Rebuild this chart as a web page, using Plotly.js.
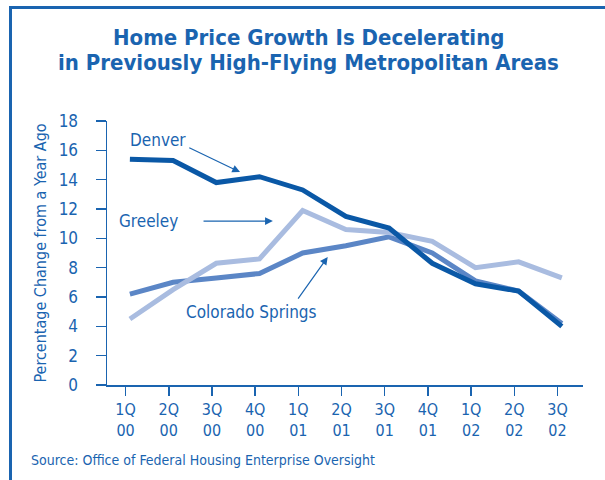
<!DOCTYPE html>
<html>
<head>
<meta charset="utf-8">
<script src="https://cdn.plot.ly/plotly-3.0.1.min.js"></script>
<style>
  html, body { margin: 0; padding: 0; background: #fff; }
  #wrap { position: relative; width: 605px; height: 480px; overflow: hidden; }
  #frame { position: absolute; left: 9px; top: 6px; width: 600px; height: 480px;
           border-left: 3px solid #1a64b0; border-top: 3px solid #1a64b0; }
  #chart { position: absolute; left: 0; top: 0; width: 605px; height: 480px; }
</style>
</head>
<body>
<div id="wrap">
  <div id="frame"></div>
  <div id="chart"></div>
</div>
<script>
const categories = ['1Q<br>00','2Q<br>00','3Q<br>00','4Q<br>00','1Q<br>01','2Q<br>01','3Q<br>01','4Q<br>01','1Q<br>02','2Q<br>02','3Q<br>02'];
const denver = [15.4, 15.3, 13.8, 14.2, 13.3, 11.5, 10.7, 8.3, 6.9, 6.4, 4.0];
const greeley = [4.5, 6.5, 8.3, 8.6, 11.9, 10.6, 10.4, 9.8, 8.0, 8.4, 7.3];
const coloradoSprings = [6.2, 7.0, 7.3, 7.6, 9.0, 9.5, 10.1, 9.0, 7.1, 6.4, 4.2];
const yTicks = [0, 2, 4, 6, 8, 10, 12, 14, 16, 18];
const titleLines = ['Home Price Growth Is Decelerating', 'in Previously High-Flying Metropolitan Areas'];

const idx = categories.map((c, i) => i);
const blue = '#1a64b0';
const font = 'DejaVu Sans Condensed, Liberation Sans Narrow, Roboto, sans-serif';

const traces = [
  { x: idx, y: coloradoSprings, mode: 'lines', line: { color: '#5b86c6', width: 5 }, name: 'Colorado Springs' },
  { x: idx, y: greeley, mode: 'lines', line: { color: '#a9bce0', width: 5 }, name: 'Greeley' },
  { x: idx, y: denver, mode: 'lines', line: { color: '#0a58a6', width: 5 }, name: 'Denver' }
];

const arrow = (x, y, ax, ay) => ({
  x: x, y: y, ax: ax, ay: ay, xref: 'x', yref: 'y', axref: 'x', ayref: 'y',
  text: '', showarrow: true, arrowhead: 2, arrowsize: 1.3, arrowwidth: 1.2, arrowcolor: blue
});
const label = (t, x, y) => ({
  x: x, y: y, xref: 'x', yref: 'y', text: t, showarrow: false,
  font: { family: font, size: 17, color: blue }
});
const titleLine = (t, y) => ({
  xref: 'paper', yref: 'paper', x: 0.424, y: y, xanchor: 'center', yanchor: 'middle',
  text: '<b>' + t + '</b>', showarrow: false,
  font: { family: font, size: 22, color: blue }
});

const layout = {
  width: 605, height: 480,
  margin: { l: 107, r: 22, t: 121, b: 95 },
  paper_bgcolor: 'rgba(0,0,0,0)', plot_bgcolor: 'rgba(0,0,0,0)',
  showlegend: false,
  font: { family: font, color: blue },
  xaxis: {
    range: [-0.53, 10.49],
    tickvals: idx.map(i => i - 0.1), ticktext: categories,
    showline: true, linecolor: blue, linewidth: 1.5,
    ticks: 'outside', ticklen: 9, tickwidth: 1.5, tickcolor: blue,
    showgrid: false, zeroline: false,
    tickfont: { family: font, size: 16, color: blue }
  },
  yaxis: {
    range: [0, 18],
    tickvals: yTicks,
    showline: true, linecolor: blue, linewidth: 1.5,
    ticks: 'outside', ticklen: 10, tickwidth: 1.5, tickcolor: blue,
    ticklabelstandoff: 14,
    showgrid: false, zeroline: false,
    tickfont: { family: font, size: 17, color: blue },
    title: { text: 'Percentage Change from a Year Ago', font: { family: font, size: 16, color: blue }, standoff: 8 }
  },
  annotations: [
    titleLine(titleLines[0], 1.318),
    titleLine(titleLines[1], 1.22),
    label('Denver', 0.65, 16.7),
    arrow(2.55, 14.52, 1.34, 16.22),
    label('Greeley', 0.42, 11.18),
    arrow(3.31, 11.18, 1.67, 11.18),
    label('Colorado Springs', 2.82, 4.98),
    arrow(4.58, 8.73, 3.87, 5.79),
    {
      xref: 'paper', yref: 'paper', x: -0.163, y: -0.283, xanchor: 'left', yanchor: 'middle',
      text: 'Source: Office of Federal Housing Enterprise Oversight', showarrow: false,
      font: { family: font, size: 14, color: blue }
    }
  ]
};

Plotly.newPlot('chart', traces, layout, { displayModeBar: false, staticPlot: true });
</script>
</body>
</html>
